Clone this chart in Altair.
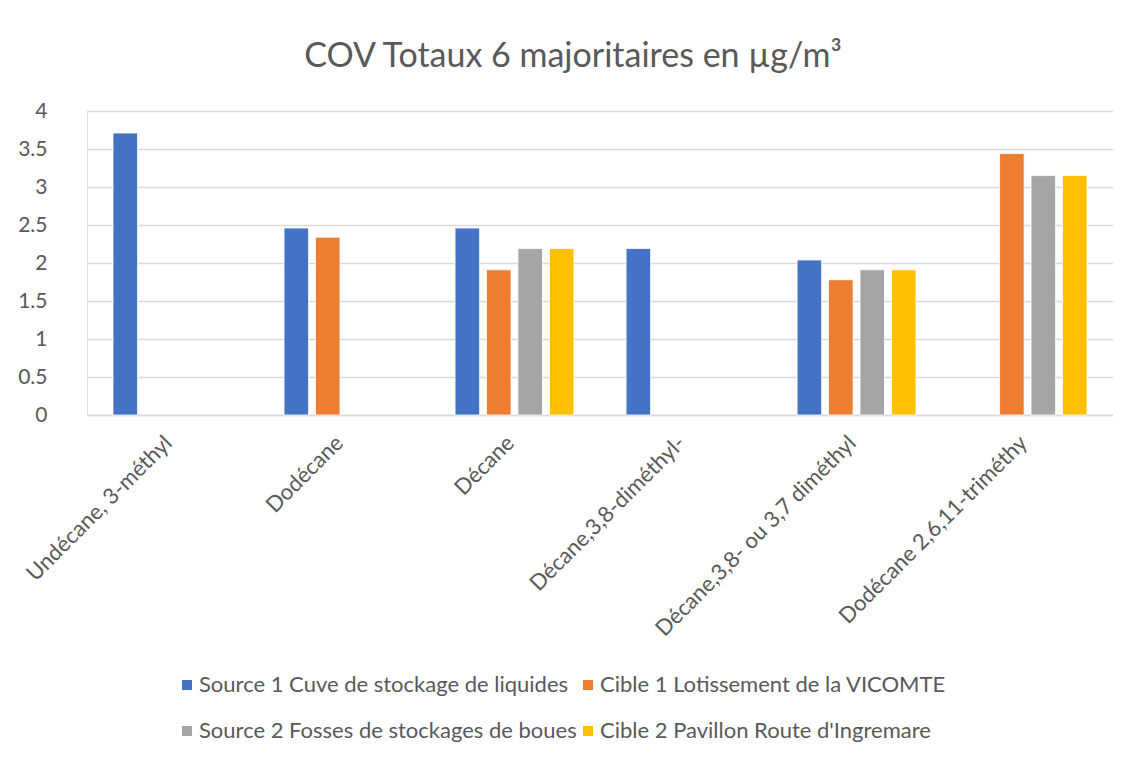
import altair as alt
import pandas as pd

categories = [
    "Undécane, 3-méthyl",
    "Dodécane",
    "Décane",
    "Décane,3,8-diméthyl-",
    "Décane,3,8- ou 3,7 diméthyl",
    "Dodécane 2,6,11-triméthy",
]
series = [
    "Source 1 Cuve de stockage de liquides",
    "Cible 1 Lotissement de la VICOMTE",
    "Source 2 Fosses de stockages de boues",
    "Cible 2  Pavillon Route d'Ingremare",
]
source1 = [3.71, 2.46, 2.46, 2.19, 2.04, None]
cible1 = [None, 2.34, 1.91, None, 1.78, 3.44]
source2 = [None, None, 2.19, None, 1.91, 3.15]
cible2 = [None, None, 2.19, None, 1.91, 3.15]
colors = ["#4472C4", "#ED7D31", "#A5A5A5", "#FFC000"]
y_ticks = [0, 0.5, 1, 1.5, 2, 2.5, 3, 3.5, 4]

rows = []
for s, vals in zip(series, [source1, cible1, source2, cible2]):
    for c, v in zip(categories, vals):
        if v is not None:
            rows.append({"cat": c, "serie": s, "val": v})
df = pd.DataFrame(rows)

FONT = "Lato"
TXT = "#595959"

chart = (
    alt.Chart(df)
    .mark_bar(stroke="white", strokeWidth=0.8)
    .encode(
        x=alt.X(
            "cat:N",
            sort=categories,
            scale=alt.Scale(paddingInner=0.305, paddingOuter=0.152),
            axis=alt.Axis(
                title=None,
                labelAngle=-45,
                labelAlign="right",
                labelBaseline="middle",
                labelFontSize=22,
                labelColor=TXT,
                labelFont=FONT,
                labelPadding=24,
                labelOffset=-4,
                ticks=False,
                domainColor="#d9d9d9",
                domainWidth=1.3,
                grid=False,
                labelLimit=400,
            ),
        ),
        xOffset=alt.XOffset(
            "serie:N",
            sort=series,
            scale=alt.Scale(domain=series, paddingInner=0.22, paddingOuter=0),
        ),
        y=alt.Y(
            "val:Q",
            scale=alt.Scale(domain=[0, 4], nice=False),
            axis=alt.Axis(
                title=None,
                values=y_ticks,
                labelFontSize=21,
                labelColor=TXT,
                labelFont=FONT,
                labelPadding=40,
                ticks=False,
                domain=False,
                gridColor="#d9d9d9",
                gridWidth=1.3,
                minExtent=79,
                labelExpr="datum.value",
            ),
        ),
        color=alt.Color(
            "serie:N",
            sort=series,
            scale=alt.Scale(domain=series, range=colors),
            legend=alt.Legend(
                title=None,
                orient="none",
                legendX=89,
                legendY=563,
                direction="horizontal",
                columns=2,
                symbolType="square",
                symbolSize=100,
                symbolStrokeWidth=0,
                labelFontSize=22,
                labelColor=TXT,
                labelFont=FONT,
                labelLimit=600,
                rowPadding=24,
                columnPadding=0,
                symbolOffset=0,
                labelOffset=1,
            ),
        ),
    )
    .properties(
        width=1026,
        height=304,
        padding={"left": 0, "top": 32, "right": 0, "bottom": 0},
        title=alt.TitleParams(
            text="COV Totaux 6 majoritaires en µg/m³",
            fontSize=34,
            font=FONT,
            fontWeight="normal",
            color=TXT,
            anchor="middle",
            offset=26,
            dx=-27,
        ),
    )
    .configure_view(stroke=None)
    .configure(background="white")
)

chart.save("out.html", embed_options={"renderer": "svg", "actions": False})
